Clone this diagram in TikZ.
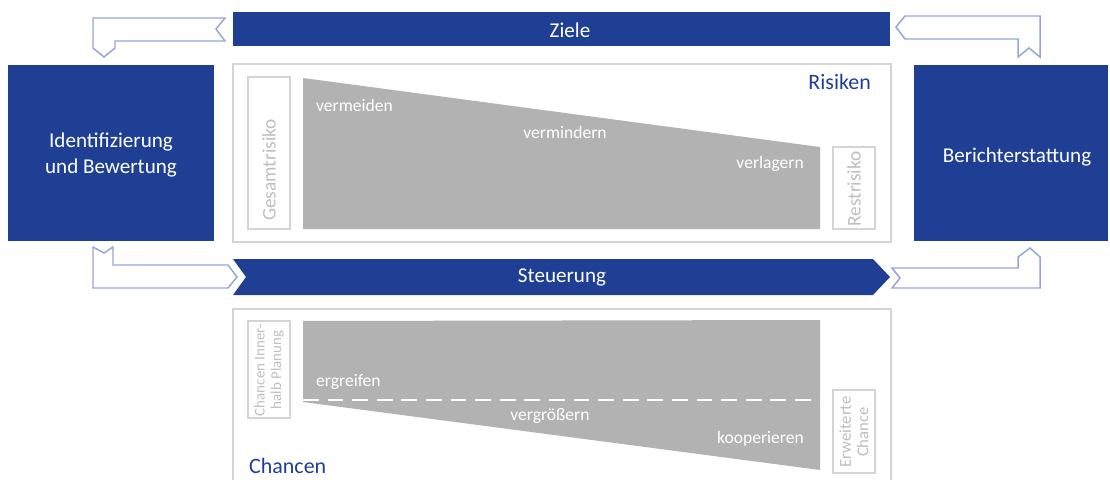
\documentclass[tikz,border=0pt]{standalone}
\usepackage{fontspec}
\setmainfont{Carlito}
\definecolor{zblue}{RGB}{31,63,148}
\definecolor{lblue}{RGB}{150,165,214}
\definecolor{rahmen}{RGB}{212,212,212}
\definecolor{fgrau}{RGB}{178,178,178}
\definecolor{tgrau}{RGB}{190,190,190}
\begin{document}
\begin{tikzpicture}[x=0.02cm,y=-0.02cm,font=\fontsize{12}{14.7}\selectfont,
    balken/.style={fill=zblue,draw=none},
    pfeil/.style={draw=lblue,line width=0.85pt,fill=white,line join=miter},
    feld/.style={draw=rahmen,line width=0.85pt},
    weiss/.style={text=white},
    grautext/.style={text=white,font=\fontsize{10}{12}\selectfont},
    klein/.style={text=tgrau,rotate=90,align=center,font=\fontsize{11}{11}\selectfont},
    titel/.style={text=zblue,font=\fontsize{12.5}{14}\selectfont}]
  \useasboundingbox (0,0) rectangle (1110,480);
  % Ziele und Seitenfelder
  \fill[balken] (233,12) rectangle (890,46);
  \node[weiss] (ziele) at (570,30) {Ziele};
  \fill[balken] (8,65) rectangle (214,241);
  \node[weiss,align=center] (ident) at (111,155) {Identifizierung\\und Bewertung};
  \fill[balken] (914,65) rectangle (1108,241);
  \node[weiss] (bericht) at (1017,157) {Berichterstattung};
  % Steuerung
  \fill[balken] (233,259) -- (873,259) -- (890,277) -- (873,295) -- (233,295) -- (246,277) -- cycle;
  \node[weiss] (steuer) at (562,277) {Steuerung};
  % Hohlpfeile
  \draw[pfeil] (93,18) -- (225,18) -- (216,29) -- (225,41) -- (115,41) -- (115,48) -- (104,57) -- (93,48) -- cycle;
  \draw[pfeil] (896,27) -- (905,16) -- (1040,16) -- (1040,57) -- (1029,48) -- (1018,57) -- (1018,39) -- (905,39) -- cycle;
  \draw[pfeil] (93,247) -- (104,253) -- (113,247) -- (113,265) -- (228,265) -- (237,277) -- (228,288) -- (93,288) -- cycle;
  \draw[pfeil] (892,268) -- (1018,268) -- (1018,257) -- (1030,248) -- (1040,257) -- (1040,288) -- (892,288) -- (900,278) -- cycle;
  % Risiken
  \draw[feld] (233,64) rectangle (891,242);
  \fill[fgrau] (303,78) -- (820,147) -- (820,229) -- (303,229) -- cycle;
  \draw[feld] (248,77) rectangle (290,229);
  \node[klein] (gesamt) at (269,170) {Gesamtrisiko};
  \draw[feld] (833,147) rectangle (875,229);
  \node[klein] (rest) at (854,189) {Restrisiko};
  \node[titel,anchor=east] (risiken) at (877,82) {Risiken};
  \node[grautext,anchor=west] (vermeiden) at (310,105) {vermeiden};
  \node[grautext] (vermindern) at (565,132) {vermindern};
  \node[grautext,anchor=east] (verlagern) at (810,164) {verlagern};
  % Chancen
  \draw[feld] (233,480) -- (233,309) -- (891,309) -- (891,480);
  \fill[fgrau] (303,321) -- (820,320) -- (820,470) -- (303,402) -- cycle;
  \draw[white,line width=1.2pt,dash pattern=on 9pt off 5pt] (303,400) -- (820,400);
  \draw[feld] (248,321) rectangle (290,418);
  \node[klein,font=\fontsize{8.5}{9.5}\selectfont] (innerhalb) at (269,370) {Chancen Inner-\\halb Planung};
  \draw[feld] (833,390) rectangle (875,473);
  \node[klein,font=\fontsize{9.5}{10}\selectfont] (erweitert) at (854,432) {Erweiterte\\Chance};
  \node[grautext,anchor=west] (ergreifen) at (310,382) {ergreifen};
  \node[grautext] (vergroessern) at (550,416) {vergrößern};
  \node[grautext,anchor=east] (kooperieren) at (810,439) {kooperieren};
  \node[titel,anchor=west] (chancen) at (243,466) {Chancen};
\end{tikzpicture}
\end{document}
